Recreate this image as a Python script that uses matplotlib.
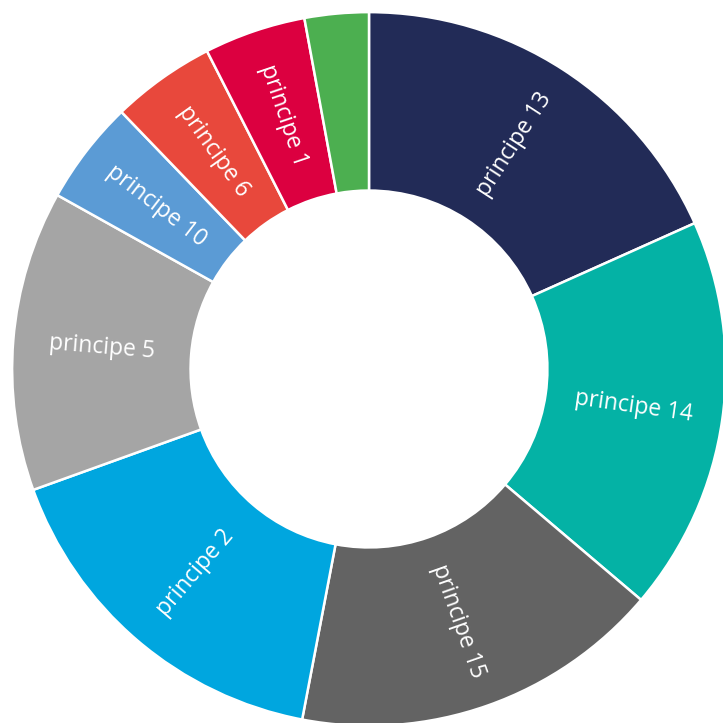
import matplotlib.pyplot as plt

labels = ["principe 13", "principe 14", "principe 15", "principe 2", "principe 5",
          "principe 10", "principe 6", "principe 1", ""]
values = [18.3, 17.9, 16.8, 16.5, 13.6, 4.7, 4.7, 4.6, 2.9]
colors = ["#222B57", "#04B2A5", "#636363", "#00A6DF", "#A5A5A5",
          "#5B9BD5", "#E8483C", "#DC0040", "#4CAF50"]

plt.rcParams['font.family'] = ['Open Sans', 'DejaVu Sans']

fig = plt.figure(figsize=(7.23, 7.23), dpi=100)
ax = fig.add_axes([0, 0, 1, 1])

wedges, texts = ax.pie(values, labels=labels, colors=colors, startangle=90,
                       counterclock=False, radius=1, labeldistance=0.75,
                       rotatelabels=True,
                       wedgeprops=dict(width=0.5, edgecolor="white", linewidth=1.8),
                       textprops=dict(color="white", fontsize=16.5))

# center the rotated labels inside the ring
for t in texts:
    t.set_ha("center")
    t.set_va("center")
    t.set_rotation_mode("anchor")

ax.set_xlim(-1.034, 0.992)
ax.set_ylim(-0.992, 1.034)
ax.set_aspect("equal")
ax.axis("off")

fig.savefig("out.png", dpi=100)
